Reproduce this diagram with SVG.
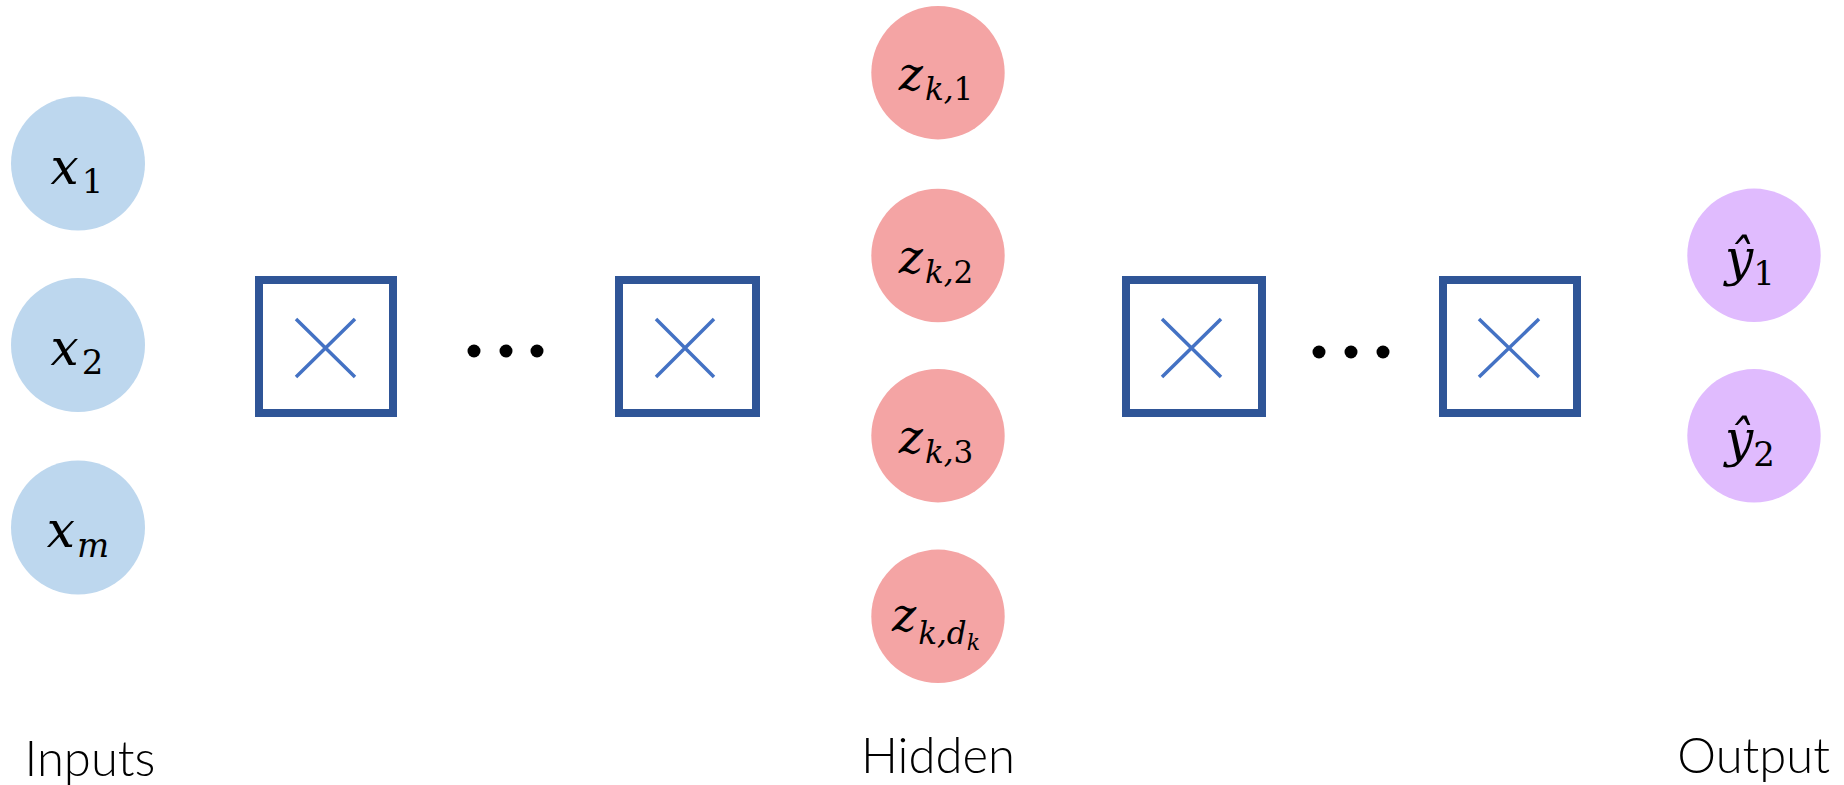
<svg xmlns="http://www.w3.org/2000/svg" width="1844" height="785" viewBox="0 0 1844 785">
<style>
.in{fill:#BDD7EE}
.hid{fill:#F4A4A4}
.out{fill:#E0BBFE}
.box{fill:#FFFFFF;stroke:#2F5597;stroke-width:8}
.cross{stroke:#4472C4;stroke-width:3.5;fill:none}
.dot{fill:#000000}
.m{font-family:"DejaVu Serif","Liberation Serif",serif;font-style:italic;fill:#000;text-anchor:middle}
.up{font-style:normal}
.lbl{font-family:Lato,"Open Sans","Liberation Sans",sans-serif;font-weight:300;font-size:49px;fill:#000;text-anchor:middle}
</style>
<rect width="1844" height="785" fill="#FFFFFF"/>
<g id="connectors"></g>
<g id="x1"><circle class="in" cx="78" cy="163.5" r="67"/><text class="m" x="77" y="183.5" font-size="50">x<tspan class="up" font-size="34" dx="3" dy="9">1</tspan></text></g>
<g id="x2"><circle class="in" cx="78" cy="345" r="67"/><text class="m" x="77" y="365" font-size="50">x<tspan class="up" font-size="34" dx="3" dy="9">2</tspan></text></g>
<g id="xm"><circle class="in" cx="78" cy="527.5" r="67"/><text class="m" x="78" y="546.5" font-size="50">x<tspan font-size="34" dx="2" dy="10">m</tspan></text></g>
<g id="box1"><rect class="box" x="259" y="280" width="134" height="133"/><path class="cross" d="M296,319 L355,377 M355,319 L296,377"/></g>
<g id="dots1"><circle class="dot" cx="474" cy="351" r="6.5"/><circle class="dot" cx="506" cy="351" r="6.5"/><circle class="dot" cx="537" cy="351" r="6.5"/></g>
<g id="box2"><rect class="box" x="619" y="280" width="137" height="133"/><path class="cross" d="M656,319 L714,377 M714,319 L656,377"/></g>
<g id="z1"><circle class="hid" cx="938" cy="72.7" r="66.7"/><text class="m" x="936" y="90" font-size="46">z<tspan font-size="31" dx="2" dy="10">k,</tspan><tspan class="up" font-size="31">1</tspan></text></g>
<g id="z2"><circle class="hid" cx="938" cy="255.5" r="66.7"/><text class="m" x="936" y="273" font-size="46">z<tspan font-size="31" dx="2" dy="10">k,</tspan><tspan class="up" font-size="31">2</tspan></text></g>
<g id="z3"><circle class="hid" cx="938" cy="435.7" r="66.7"/><text class="m" x="936" y="453" font-size="46">z<tspan font-size="31" dx="2" dy="10">k,</tspan><tspan class="up" font-size="31">3</tspan></text></g>
<g id="zd"><circle class="hid" cx="938" cy="616.3" r="66.7"/><text class="m" x="936" y="631" font-size="46">z<tspan font-size="31" dx="2" dy="13">k,d</tspan><tspan font-size="22" dy="6">k</tspan></text></g>
<g id="box3"><rect class="box" x="1126" y="280" width="136" height="133"/><path class="cross" d="M1162,319 L1221,377 M1221,319 L1162,377"/></g>
<g id="dots2"><circle class="dot" cx="1319" cy="352" r="6.5"/><circle class="dot" cx="1351" cy="352" r="6.5"/><circle class="dot" cx="1383" cy="352" r="6.5"/></g>
<g id="box4"><rect class="box" x="1443" y="280" width="134" height="133"/><path class="cross" d="M1479,319 L1539,377 M1539,319 L1479,377"/></g>
<g id="y1"><circle class="out" cx="1754" cy="255.3" r="66.7"/><text class="m" x="1750" y="275" font-size="50">ŷ<tspan class="up" font-size="34" dy="10">1</tspan></text></g>
<g id="y2"><circle class="out" cx="1754" cy="435.8" r="66.7"/><text class="m" x="1750" y="455.5" font-size="50">ŷ<tspan class="up" font-size="34" dy="10">2</tspan></text></g>
<g id="label-inputs"><text class="lbl" x="90" y="775.7">Inputs</text></g>
<g id="label-hidden"><text class="lbl" x="938" y="772.7">Hidden</text></g>
<g id="label-output"><text class="lbl" x="1753.7" y="773">Output</text></g>
</svg>
